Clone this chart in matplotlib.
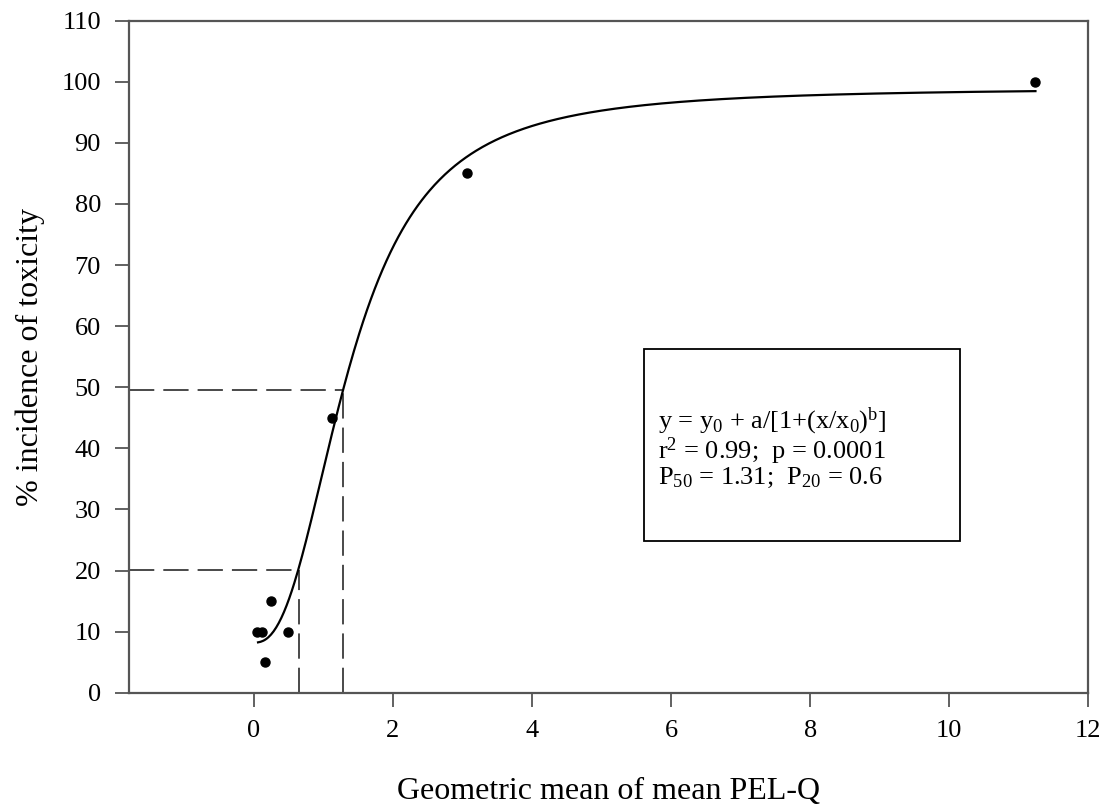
import numpy as np
import matplotlib
matplotlib.use("Agg")
import matplotlib.pyplot as plt
from matplotlib.patches import Rectangle

# Observed data points
pelq = [0.05, 0.12, 0.16, 0.24, 0.49, 1.13, 3.07, 11.24]
incidence = [10, 10, 5, 15, 10, 45, 85, 100]

# Fitted sigmoid: y = y0 + a/[1+(x/x0)^b]
y0 = 99.0
a = -90.8
x0 = 1.38
b = 2.45
fit_xmin, fit_xmax = 0.06, 11.24

# Reference levels
p50_x, p50_y = 1.276, 49.6
p20_x, p20_y = 0.65, 20.1

xticks = [0, 2, 4, 6, 8, 10, 12]
yticks = list(range(0, 111, 10))

box_lines = [r'y = y$_0$ + a/[1+(x/x$_0$)$^{\rm b}$]',
             r'r$^2$ = 0.99;  p = 0.0001',
             r'P$_{50}$ = 1.31;  P$_{20}$ = 0.6']

plt.rcParams['font.family'] = ['Liberation Serif', 'DejaVu Serif']
plt.rcParams['mathtext.fontset'] = 'custom'
plt.rcParams['mathtext.rm'] = 'Liberation Serif'
plt.rcParams['mathtext.it'] = 'Liberation Serif'

W, H = 1107, 807
fig = plt.figure(figsize=(W/100, H/100), dpi=100)
ax = fig.add_axes([128.7/W, 1-692.7/H, (1088.3-128.7)/W, (692.7-20.7)/H])

xs = np.linspace(fit_xmin, fit_xmax, 600)
ys = y0 + a/(1+(xs/x0)**b)
ax.plot(xs, ys, color='black', lw=1.6, zorder=3)
ax.plot(pelq, incidence, 'o', color='black', ms=6.5, zorder=4)

dash = dict(color='#3a3a3a', lw=1.3, dashes=(14, 5))
xmin = -1.8
ax.plot([xmin, p50_x], [p50_y, p50_y], **dash)
ax.plot([p50_x, p50_x], [0, p50_y], **dash)
ax.plot([xmin, p20_x], [p20_y, p20_y], **dash)
ax.plot([p20_x, p20_x], [0, p20_y], **dash)

ax.set_xlim(xmin, 12)
ax.set_ylim(0, 110)
ax.set_xticks(xticks)
ax.set_yticks(yticks)
ax.tick_params(direction='out', length=10, width=1.3, color='#555555',
               labelsize=19)
ax.tick_params(axis='x', pad=10)
ax.tick_params(axis='y', pad=10)
for s in ax.spines.values():
    s.set_color('#555555')
    s.set_linewidth(1.6)

ax.set_xlabel('Geometric mean of mean PEL-Q', fontsize=23, labelpad=25)
ax.set_ylabel('% incidence of toxicity', fontsize=23, labelpad=12)

# Annotation box
ax.add_patch(Rectangle((5.61, 24.8), 10.16-5.61, 56.3-24.8, fill=False,
                       edgecolor='black', lw=1.3, zorder=5))
fig.text(658/W, 1-448/H, '\n'.join(box_lines), fontsize=19,
         va='center', ha='left', linespacing=0.95)

fig.savefig('out.png', dpi=100)
